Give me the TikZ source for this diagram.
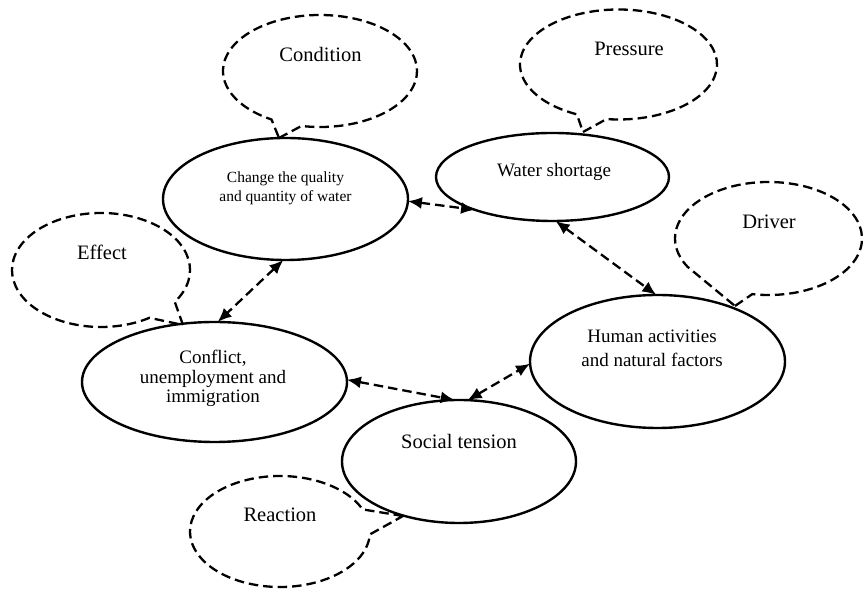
\documentclass[tikz,border=0pt]{standalone}
\usepackage{fontspec}
\setmainfont{Liberation Serif}
\usetikzlibrary{shapes.geometric,arrows.meta}
\begin{document}
\begin{tikzpicture}[x=1pt,y=1pt,
  oval/.style={draw,ellipse,line width=2.4pt,inner sep=0pt,outer sep=0pt},
  callout/.style={draw,line width=2.3pt,dash pattern=on 9.5pt off 5pt,line join=miter},
  link/.style={line width=2.3pt,dash pattern=on 9.5pt off 5pt,
    {Latex[length=14pt,width=12pt]}-{Latex[length=14pt,width=12pt]}},
  lbl/.style={anchor=base,inner sep=0pt,font=\fontsize{20.5}{24}\selectfont},
  txt/.style={anchor=base,inner sep=0pt,align=center}]
\useasboundingbox (0,0) rectangle (865,591);
% main ellipses
\node[oval,minimum width=245pt,minimum height=122pt] (change) at (285.5,392) {};
\node[oval,minimum width=233pt,minimum height=88pt] (water) at (552.5,414) {};
\node[oval,minimum width=265pt,minimum height=120pt] (conflict) at (214.5,209) {};
\node[oval,minimum width=255pt,minimum height=133pt] (human) at (657.5,229.5) {};
\node[oval,minimum width=234pt,minimum height=123pt] (social) at (459,129.5) {};
% texts (base anchor = last line baseline)
\node[txt,font=\fontsize{15.5}{19.5}\selectfont] (tchange) at (285.5,389) {Change the quality\\and quantity of water};
\node[txt,font=\fontsize{19}{24}\selectfont] (twater) at (554,414) {Water shortage};
\node[txt,font=\fontsize{19}{19.5}\selectfont] (tconflict) at (213,188) {Conflict,\\unemployment and\\immigration};
\node[txt,font=\fontsize{19}{24}\selectfont] (thuman) at (652,224) {Human activities\\and natural factors};
\node[txt,font=\fontsize{20.5}{24}\selectfont] (tsocial) at (459,142) {Social tension};
% callouts
\coordinate (ccond) at (320,520);  \coordinate (tipcond) at (279,453);
\coordinate (cpres) at (618.5,526.5); \coordinate (tippres) at (583,459);
\coordinate (cdriv) at (768.5,352.5); \coordinate (tipdriv) at (735,285);
\coordinate (ceff) at (101,321); \coordinate (tipeff) at (183,266);
\coordinate (creac) at (280,59.5); \coordinate (tipreac) at (403,75);
\draw[callout] (tipcond) -- ([shift={(-101:97 and 56)}]ccond) arc[start angle=-101,end angle=240,x radius=97,y radius=56] -- cycle;
\draw[callout] (tippres) -- ([shift={(-97:98.5 and 55)}]cpres) arc[start angle=-97,end angle=245,x radius=98.5,y radius=55] -- cycle;
\draw[callout] (tipdriv) -- ([shift={(-100:93.5 and 56.5)}]cdriv) arc[start angle=-100,end angle=210,x radius=93.5,y radius=56.5] -- cycle;
\draw[callout] (tipeff) -- ([shift={(-34:89 and 57)}]ceff) arc[start angle=-34,end angle=303,x radius=89,y radius=57] -- cycle;
\draw[callout] (tipreac) -- ([shift={(23.5:90 and 55.5)}]creac) arc[start angle=23.5,end angle=357,x radius=90,y radius=55.5] -- cycle;
\node[lbl] (lcond) at (320.5,529) {Condition};
\node[lbl] (lpres) at (629,535) {Pressure};
\node[lbl] (ldriv) at (769,362) {Driver};
\node[lbl] (leff) at (102,331) {Effect};
\node[lbl] (lreac) at (280,69) {Reaction};
% links
\draw[link] (change.-1.4) -- (water.-157);
\draw[link] (change.-92) -- (conflict.87);
\draw[link] (water.-86) -- (human.91);
\draw[link] (conflict.1) -- (social.94);
\draw[link] (social.82) -- (human.181);
\end{tikzpicture}
\end{document}
